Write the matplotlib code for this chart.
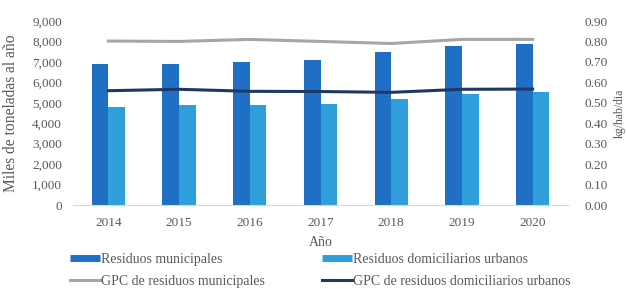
import matplotlib
matplotlib.use("Agg")
import matplotlib.pyplot as plt
import numpy as np
from matplotlib.lines import Line2D

years = ["2014", "2015", "2016", "2017", "2018", "2019", "2020"]
res_municipales = [6900, 6920, 7000, 7090, 7470, 7780, 7890]
res_domiciliarios = [4810, 4890, 4890, 4940, 5200, 5430, 5510]
gpc_municipales = [0.802, 0.800, 0.810, 0.800, 0.790, 0.810, 0.810]
gpc_domiciliarios = [0.559, 0.566, 0.556, 0.555, 0.551, 0.566, 0.567]

c_mun = "#1F6FC5"
c_dom = "#2E9FDA"
c_gmun = "#A6A6A6"
c_gdom = "#1F3864"
txt = "#595959"

plt.rcParams["font.family"] = ["Liberation Serif", "DejaVu Serif"]
plt.rcParams["font.size"] = 9

fig = plt.figure(figsize=(6.26, 2.89), dpi=100)
ax = fig.add_axes([73/626, 1-205/289, (568-73)/626, (205-21)/289])
x = np.arange(len(years))
w = 0.236
ax.bar(x - w/2, res_municipales, w, color=c_mun, zorder=2)
ax.bar(x + w/2, res_domiciliarios, w, color=c_dom, zorder=2)
ax.set_xlim(-0.5, len(years) - 0.5)
ax.set_ylim(0, 9000)
ax.set_yticks(np.arange(0, 9001, 1000))
ax.set_yticklabels([f"{v:,}" for v in range(0, 9001, 1000)])
ax.set_xticks(x)
ax.set_xticklabels(years)
for s in ["top", "left", "right"]:
    ax.spines[s].set_visible(False)
ax.spines["bottom"].set_color("#D9D9D9")
ax.tick_params(axis="both", length=0, colors=txt, labelsize=9.5)
ax.tick_params(axis="y", pad=8)
ax.tick_params(axis="x", pad=9)
ax.set_xlabel("Año", color=txt, fontsize=10, labelpad=5)
ax.set_ylabel("Miles de toneladas al año", color=txt, fontsize=11.2, labelpad=9)

ax2 = ax.twinx()
ax2.plot(x, gpc_municipales, color=c_gmun, lw=2.2, zorder=3)
ax2.plot(x, gpc_domiciliarios, color=c_gdom, lw=2.2, zorder=3)
ax2.set_ylim(0, 0.9)
ax2.set_yticks(np.arange(0, 0.91, 0.1))
ax2.set_yticklabels([f"{v:.2f}" for v in np.arange(0, 0.91, 0.1)])
for s in ["top", "left", "right", "bottom"]:
    ax2.spines[s].set_visible(False)
ax2.tick_params(axis="y", length=0, colors=txt, labelsize=9.5, pad=12)
ax2.set_ylabel("kg/hab/dia", color=txt, fontsize=8.5, labelpad=4)

h_mun = Line2D([], [], color=c_mun, lw=5, solid_capstyle="butt")
h_gmun = Line2D([], [], color=c_gmun, lw=2.2)
h_dom = Line2D([], [], color=c_dom, lw=5, solid_capstyle="butt")
h_gdom = Line2D([], [], color=c_gdom, lw=2.2)

common = dict(loc="upper left", frameon=False, fontsize=10, handlelength=2.15,
              handletextpad=0.05, labelspacing=0.62, borderpad=0, borderaxespad=0)
leg1 = fig.legend([h_mun, h_gmun], ["Residuos municipales", "GPC de residuos municipales"],
                  bbox_to_anchor=(70/626, 1-253/289), **common)
leg2 = fig.legend([h_dom, h_gdom], ["Residuos domiciliarios urbanos",
                                    "GPC de residuos domiciliarios urbanos"],
                  bbox_to_anchor=(322/626, 1-253/289), **common)
for leg in (leg1, leg2):
    for t in leg.get_texts():
        t.set_color(txt)

fig.savefig("out.png", dpi=100)
